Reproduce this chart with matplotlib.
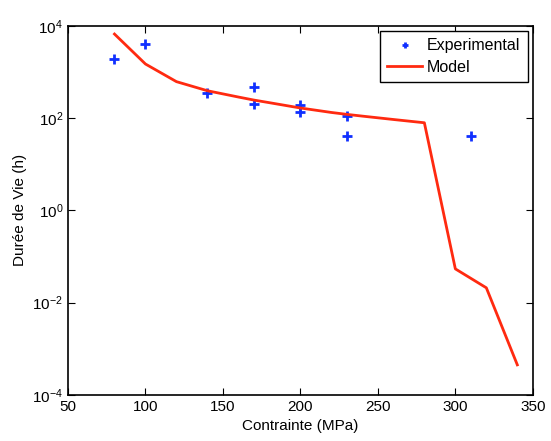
import matplotlib
matplotlib.use('Agg')
import matplotlib.pyplot as plt

plt.rcParams['font.family'] = ['Liberation Sans', 'DejaVu Sans']
plt.rcParams['mathtext.fontset'] = 'custom'
plt.rcParams['mathtext.rm'] = 'Liberation Sans'
plt.rcParams['mathtext.it'] = 'Liberation Sans'

# experimental data
exp_stress = [80, 100, 140, 170, 170, 200, 200, 230, 230, 310]
exp_life = [1900, 4000, 350, 480, 200, 190, 138, 111, 41, 41]

# model curve
mod_stress = [80, 100, 120, 140, 160, 170, 180, 200, 220, 230, 240, 260, 280, 300, 320, 340]
mod_life = [6600, 1480, 614, 390, 285, 245, 215, 165, 132, 120, 110, 93, 79, 0.054, 0.021, 0.00045]

fig = plt.figure(figsize=(5.51, 4.41), dpi=100)
ax = fig.add_axes([0.1234, 0.1043, 0.8436, 0.8374])

ax.plot(exp_stress, exp_life, '+', color='#1030ff', ms=7, mew=2, label='Experimental')
ax.plot(mod_stress, mod_life, '-', color='#ff2a10', lw=2, label='Model')

ax.set_yscale('log')
ax.set_xlim(50, 350)
ax.set_ylim(1e-4, 1e4)
ax.set_xticks([50, 100, 150, 200, 250, 300, 350])
ax.set_yticks([1e-4, 1e-2, 1e0, 1e2, 1e4])
ax.minorticks_off()
ax.tick_params(direction='in', top=True, right=True, labelsize=11, length=5)
for s in ax.spines.values():
    s.set_linewidth(1.2)

ax.set_xlabel('Contrainte (MPa)', fontsize=11)
ax.set_ylabel('Durée de Vie (h)', fontsize=11)

leg = ax.legend(loc='upper right', fontsize=11.5, fancybox=False, framealpha=1,
                edgecolor='black', borderaxespad=0.33, handlelength=2.2,
                handletextpad=0.3, borderpad=0.45, labelspacing=0.4, markerscale=0.7)
leg.get_frame().set_linewidth(1.0)

fig.savefig('out.png', dpi=100)
